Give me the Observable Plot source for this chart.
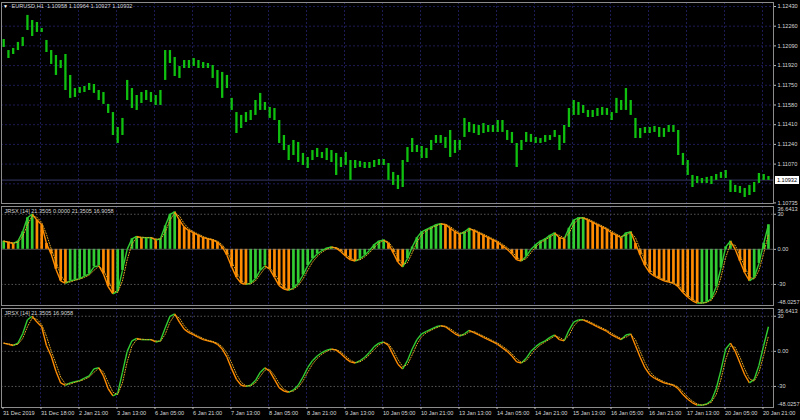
<!DOCTYPE html>
<html><head><meta charset="utf-8">
<script src="https://cdn.jsdelivr.net/npm/d3@7"></script>
<script src="https://cdn.jsdelivr.net/npm/@observablehq/plot@0.6"></script>
<style>
html,body{margin:0;padding:0;background:#000;}
#chart{position:relative;width:800px;height:420px;background:#000;overflow:hidden;font-family:"Liberation Sans",Arial,sans-serif;}
#chart svg{position:absolute;left:0;overflow:visible;}
#pricebox{position:absolute;left:775px;width:24px;height:8px;background:#fff;color:#000;font-size:5.6px;line-height:8px;text-align:center;}
</style></head><body><div id="chart"></div>
<script>
// ---- data (2-hour bars, EURUSD H1 chart) ----
const high=[1.12145,1.12050,1.12068,1.12120,1.12163,1.12353,1.12309,1.12292,1.12240,1.12137,
1.12050,1.12007,1.11964,1.12016,1.11835,1.11722,1.11731,1.11740,1.11766,1.11757,
1.11705,1.11688,1.11585,1.11515,1.11386,1.11464,1.11792,1.11722,1.11662,1.11688,
1.11705,1.11688,1.11662,1.11705,1.12050,1.12050,1.11990,1.11912,1.11964,1.11964,
1.11981,1.11964,1.11947,1.11938,1.11921,1.11878,1.11861,1.11835,1.11637,1.11515,
1.11490,1.11515,1.11533,1.11619,1.11680,1.11602,1.11559,1.11550,1.11446,1.11317,
1.11231,1.11274,1.11257,1.11162,1.11127,1.11187,1.11205,1.11170,1.11205,1.11187,
1.11162,1.11127,1.11170,1.11101,1.11101,1.11093,1.11084,1.11084,1.11101,1.11110,
1.11110,1.11075,1.10998,1.10972,1.11101,1.11213,1.11291,1.11231,1.11222,1.11205,
1.11274,1.11317,1.11317,1.11300,1.11360,1.11274,1.11274,1.11464,1.11429,1.11412,
1.11403,1.11420,1.11403,1.11403,1.11446,1.11446,1.11360,1.11343,1.11248,1.11274,
1.11343,1.11326,1.11300,1.11291,1.11317,1.11317,1.11360,1.11317,1.11403,1.11550,
1.11619,1.11602,1.11576,1.11533,1.11533,1.11550,1.11559,1.11550,1.11515,1.11637,
1.11619,1.11722,1.11619,1.11464,1.11377,1.11386,1.11386,1.11395,1.11386,1.11377,
1.11403,1.11403,1.11360,1.11162,1.11101,1.10972,1.10963,1.10946,1.10955,1.10963,
1.10980,1.10998,1.11015,1.10929,1.10886,1.10877,1.10860,1.10886,1.10911,1.10989,
1.10980,1.10963];
const low=[1.12076,1.11981,1.12016,1.12050,1.12085,1.12223,1.12171,1.12206,1.12206,1.12033,
1.11930,1.11835,1.11895,1.11705,1.11637,1.11645,1.11680,1.11688,1.11705,1.11680,
1.11619,1.11585,1.11507,1.11317,1.11248,1.11317,1.11619,1.11550,1.11533,1.11593,
1.11619,1.11602,1.11576,1.11576,1.11792,1.11938,1.11826,1.11809,1.11895,1.11895,
1.11912,1.11895,1.11895,1.11895,1.11809,1.11722,1.11637,1.11722,1.11533,1.11334,
1.11377,1.11429,1.11446,1.11490,1.11533,1.11533,1.11464,1.11446,1.11248,1.11187,
1.11101,1.11144,1.11084,1.11058,1.11032,1.11101,1.11127,1.11118,1.11101,1.11084,
1.10972,1.11041,1.11058,1.10929,1.11032,1.11041,1.11032,1.11032,1.11041,1.11058,
1.11058,1.10929,1.10886,1.10851,1.10868,1.11084,1.11170,1.11170,1.11118,1.11118,
1.11187,1.11248,1.11248,1.11205,1.11127,1.11162,1.11187,1.11300,1.11343,1.11334,
1.11317,1.11334,1.11343,1.11343,1.11343,1.11343,1.11274,1.11248,1.11041,1.11187,
1.11257,1.11257,1.11248,1.11248,1.11257,1.11274,1.11300,1.11187,1.11248,1.11386,
1.11490,1.11490,1.11507,1.11472,1.11472,1.11481,1.11490,1.11490,1.11446,1.11507,
1.11533,1.11533,1.11490,1.11291,1.11291,1.11334,1.11334,1.11343,1.11300,1.11300,
1.11343,1.11343,1.11144,1.11058,1.10972,1.10868,1.10903,1.10903,1.10903,1.10894,
1.10929,1.10946,1.10946,1.10825,1.10825,1.10817,1.10782,1.10799,1.10825,1.10903,
1.10929,1.10929];
const jrsx=[7,6,5,7,15,27,30,25,21,5,
-4,-17,-27,-29,-27,-26,-25,-23,-21,-15,
-14,-21,-32,-38,-36,-18,0,9,11,10,
10,10,8,9,20,30,32,25,19,16,
14,12,10,9,8,6,2,-5,-15,-24,
-29,-30,-29,-25,-18,-14,-17,-24,-31,-34,
-35,-33,-29,-22,-14,-8,-4,-1,1,2,
1,-2,-6,-9,-10,-8,-5,-1,4,7,
8,5,-3,-11,-15,-8,2,10,15,17,
19,21,22,21,18,15,13,15,18,16,
14,12,10,8,6,3,0,-4,-9,-10,
-6,0,4,7,9,12,14,10,9,18,
25,27,27,25,23,21,19,17,14,12,
10,14,15,5,-5,-14,-20,-23,-25,-27,
-28,-29,-32,-37,-41,-44,-46,-46,-45,-42,
-32,-16,2,7,0,-10,-20,-27,-24,-12,
5,21];
const timeLabels=["31 Dec 2019","31 Dec 18:00","2 Jan 21:00","3 Jan 13:00","6 Jan 05:00","6 Jan 21:00","7 Jan 13:00","8 Jan 05:00","8 Jan 21:00","9 Jan 13:00","10 Jan 05:00","10 Jan 21:00","13 Jan 13:00","14 Jan 05:00","14 Jan 21:00","15 Jan 13:00","16 Jan 05:00","16 Jan 21:00","17 Jan 13:00","20 Jan 05:00","20 Jan 21:00"];
const priceTicks=[1.12430,1.12260,1.12090,1.11920,1.11750,1.11580,1.11410,1.11240,1.11070];
const priceGrid=[1.12430,1.12260,1.12090,1.11920,1.11750,1.11580,1.11410,1.11240,1.11070,1.10900];
const priceMin=1.10735, lastPrice=1.10932;
const symbolTitle="EURUSD,H1  1.10958 1.10964 1.10927 1.10932";
const jrsxTitle1="JRSX [14] 21.3505 0.0000 21.3505 16.9058";
const jrsxTitle2="JRSX [14] 21.3505 16.9058";
const jrsxMax=36.6413, jrsxMin=-48.0257;
const jrsxLevels=[30,0,-30];

// ---- build ----
const GREEN="#32cd32", ORANGE="#ff8c00", GRID="#1b1b55", BORDER="#8c8c8c", TXT="#d6d6d6";
const bars=high.map((h,j)=>({t:2*j+0.5, tp:2*j-1.5, high:h, low:low[j], v:jrsx[j], prev:j?jrsx[j-1]:jrsx[j]}));
bars.forEach(d=>d.col = d.v>=d.prev?GREEN:ORANGE);
const labelData=timeLabels.map((s,k)=>({t:16*k,s}));
const gridT=labelData.slice(1).map(d=>d.t);
const W=800, ML=1, MR=27;
const xOpt={type:"linear", domain:[-0.42,324.63], axis:null};
const style={background:"transparent", color:TXT, fontFamily:"'Liberation Sans',Arial,sans-serif", fontSize:"5.6px", overflow:"visible"};
const dots={stroke:GRID, strokeDasharray:"2,2"};
const chart=document.getElementById("chart");

const pricePlot=Plot.plot({
  width:W, height:205, marginLeft:ML, marginRight:MR, marginTop:2, marginBottom:2,
  style, x:xOpt, y:{domain:[1.10730,1.124645], axis:null},
  marks:[
    Plot.ruleY(priceGrid, dots),
    Plot.ruleX(gridT, dots),
    Plot.ruleY([lastPrice], {stroke:"#383868"}),
    Plot.ruleX(bars, {x:"t", y1:"low", y2:"high", stroke:"#0fc00f", strokeWidth:2.3}),
    Plot.axisY({anchor:"right", ticks:priceTicks, tickFormat:d=>d.toFixed(5), tickSize:2, tickPadding:2, stroke:"#bbb"}),
    Plot.axisY({anchor:"right", ticks:[priceMin], tickFormat:d=>d.toFixed(5), tickSize:2, tickPadding:2, stroke:"#bbb"}),
    Plot.frame({stroke:BORDER}),
    Plot.text(["▼"], {frameAnchor:"top-left", dx:4, dy:3.8, fontSize:5, fill:"#fff", lineAnchor:"middle", textAnchor:"middle"}),
    Plot.text([symbolTitle], {frameAnchor:"top-left", dx:10, dy:3.8, fill:TXT, lineAnchor:"middle"})
  ]
});
pricePlot.style.top="0px";
chart.appendChild(pricePlot);
const pb=document.createElement("div");
pb.id="pricebox"; pb.textContent=lastPrice.toFixed(5);
pb.style.top=(pricePlot.scale("y").apply(lastPrice)-4)+"px";
chart.appendChild(pb);

function jrsxMarks(hist, title){
  const m=[
    Plot.ruleX(gridT, dots),
    Plot.ruleY(hist?[30,-30]:jrsxLevels, {stroke:"#555", strokeDasharray:"1.5,2"})
  ];
  if(hist){
    m.push(Plot.ruleX(bars, {x:"t", y1:0, y2:"v", stroke:"col", strokeWidth:2.7}));
    m.push(Plot.ruleY([0], {stroke:"#777", strokeWidth:0.6}));
  }
  m.push(
    Plot.link(bars.slice(1), {x1:"tp", y1:"prev", x2:"t", y2:"v", stroke:"col", strokeWidth:1.4}),
    Plot.line(bars, Plot.windowY({k:2, anchor:"end"}, {x:"t", y:"v", stroke:"#e0a422", strokeWidth:1, strokeDasharray:"1,1.6"})),
    Plot.axisY({anchor:"right", ticks:[30,0,-30], tickFormat:d=>d===0?"0.00":String(d), tickSize:2, tickPadding:2, stroke:"#bbb"}),
    Plot.axisY({anchor:"right", ticks:[jrsxMax], tickFormat:d=>d.toFixed(4), tickSize:0, tickPadding:4, dy:3}),
    Plot.axisY({anchor:"right", ticks:[jrsxMin], tickFormat:d=>d.toFixed(4), tickSize:0, tickPadding:4, dy:-3}),
    Plot.frame({stroke:BORDER}),
    Plot.text([title], {frameAnchor:"top-left", dx:3, dy:5, fill:TXT, lineAnchor:"middle"})
  );
  return m;
}

const histPlot=Plot.plot({
  width:W, height:101, marginLeft:ML, marginRight:MR, marginTop:1, marginBottom:1,
  style, x:xOpt, y:{domain:[jrsxMin,jrsxMax], axis:null}, color:{type:"identity"},
  marks:jrsxMarks(true, jrsxTitle1)
});
histPlot.style.top="205px";
chart.appendChild(histPlot);

const linePlot=Plot.plot({
  width:W, height:114, marginLeft:ML, marginRight:MR, marginTop:2, marginBottom:13,
  style, x:xOpt, y:{domain:[jrsxMin,jrsxMax], axis:null}, color:{type:"identity"},
  marks:[
    ...jrsxMarks(false, jrsxTitle2),
    Plot.axisX({anchor:"bottom", ticks:labelData.map(d=>d.t), tickFormat:t=>timeLabels[Math.round(t/16)], tickSize:2, tickPadding:2, textAnchor:"start", dx:0.5, stroke:"#bbb"})
  ]
});
linePlot.style.top="306px";
chart.appendChild(linePlot);
</script></body></html>
